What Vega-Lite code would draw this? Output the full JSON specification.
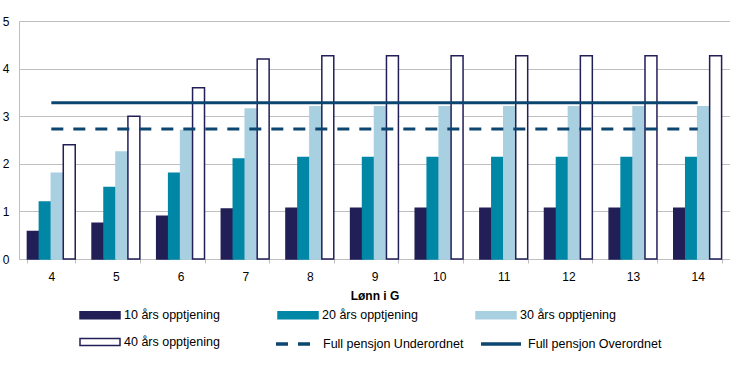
{
  "$schema": "https://vega.github.io/schema/vega-lite/v6.json",
  "width": 711,
  "height": 238,
  "autosize": {"type": "none"},
  "padding": {"left": 19, "top": 21, "right": 0, "bottom": 106},
  "background": "white",
  "config": {
    "font": "Liberation Sans",
    "view": {"stroke": null},
    "axis": {"labelFont": "Liberation Sans", "titleFont": "Liberation Sans", "labelColor": "#000000", "titleColor": "#000000", "labelFontSize": 12}
  },
  "datasets": {
    "bars": [
      {"lonn": "4", "serie": "10 års opptjening", "verdi": 0.58},
      {"lonn": "4", "serie": "20 års opptjening", "verdi": 1.2},
      {"lonn": "4", "serie": "30 års opptjening", "verdi": 1.8},
      {"lonn": "4", "serie": "40 års opptjening", "verdi": 2.4},
      {"lonn": "5", "serie": "10 års opptjening", "verdi": 0.75},
      {"lonn": "5", "serie": "20 års opptjening", "verdi": 1.5},
      {"lonn": "5", "serie": "30 års opptjening", "verdi": 2.25},
      {"lonn": "5", "serie": "40 års opptjening", "verdi": 3.0},
      {"lonn": "6", "serie": "10 års opptjening", "verdi": 0.9},
      {"lonn": "6", "serie": "20 års opptjening", "verdi": 1.8},
      {"lonn": "6", "serie": "30 års opptjening", "verdi": 2.7},
      {"lonn": "6", "serie": "40 års opptjening", "verdi": 3.6},
      {"lonn": "7", "serie": "10 års opptjening", "verdi": 1.05},
      {"lonn": "7", "serie": "20 års opptjening", "verdi": 2.1},
      {"lonn": "7", "serie": "30 års opptjening", "verdi": 3.15},
      {"lonn": "7", "serie": "40 års opptjening", "verdi": 4.2},
      {"lonn": "8", "serie": "10 års opptjening", "verdi": 1.065},
      {"lonn": "8", "serie": "20 års opptjening", "verdi": 2.13},
      {"lonn": "8", "serie": "30 års opptjening", "verdi": 3.2},
      {"lonn": "8", "serie": "40 års opptjening", "verdi": 4.27},
      {"lonn": "9", "serie": "10 års opptjening", "verdi": 1.065},
      {"lonn": "9", "serie": "20 års opptjening", "verdi": 2.13},
      {"lonn": "9", "serie": "30 års opptjening", "verdi": 3.2},
      {"lonn": "9", "serie": "40 års opptjening", "verdi": 4.27},
      {"lonn": "10", "serie": "10 års opptjening", "verdi": 1.065},
      {"lonn": "10", "serie": "20 års opptjening", "verdi": 2.13},
      {"lonn": "10", "serie": "30 års opptjening", "verdi": 3.2},
      {"lonn": "10", "serie": "40 års opptjening", "verdi": 4.27},
      {"lonn": "11", "serie": "10 års opptjening", "verdi": 1.065},
      {"lonn": "11", "serie": "20 års opptjening", "verdi": 2.13},
      {"lonn": "11", "serie": "30 års opptjening", "verdi": 3.2},
      {"lonn": "11", "serie": "40 års opptjening", "verdi": 4.27},
      {"lonn": "12", "serie": "10 års opptjening", "verdi": 1.065},
      {"lonn": "12", "serie": "20 års opptjening", "verdi": 2.13},
      {"lonn": "12", "serie": "30 års opptjening", "verdi": 3.2},
      {"lonn": "12", "serie": "40 års opptjening", "verdi": 4.27},
      {"lonn": "13", "serie": "10 års opptjening", "verdi": 1.065},
      {"lonn": "13", "serie": "20 års opptjening", "verdi": 2.13},
      {"lonn": "13", "serie": "30 års opptjening", "verdi": 3.2},
      {"lonn": "13", "serie": "40 års opptjening", "verdi": 4.27},
      {"lonn": "14", "serie": "10 års opptjening", "verdi": 1.065},
      {"lonn": "14", "serie": "20 års opptjening", "verdi": 2.13},
      {"lonn": "14", "serie": "30 års opptjening", "verdi": 3.2},
      {"lonn": "14", "serie": "40 års opptjening", "verdi": 4.27}
    ],
    "lines": [
      {"lonn": "4", "serie": "Full pensjon Underordnet", "verdi": 2.73},
      {"lonn": "14", "serie": "Full pensjon Underordnet", "verdi": 2.73},
      {"lonn": "4", "serie": "Full pensjon Overordnet", "verdi": 3.28},
      {"lonn": "14", "serie": "Full pensjon Overordnet", "verdi": 3.28}
    ]
  },
  "layer": [
    {
      "data": {"name": "bars"},
      "mark": {"type": "bar", "strokeWidth": 1.5},
      "encoding": {
        "x": {
          "field": "lonn", "type": "ordinal", "sort": ["4","5","6","7","8","9","10","11","12","13","14"],
          "scale": {"paddingInner": 0.26, "paddingOuter": 0.13},
          "axis": {
            "title": "Lønn i G", "titleFontWeight": "bold", "titleFontSize": 12, "titlePadding": 8,
            "labelAngle": 0, "labelPadding": 8, "tickBand": "extent", "tickSize": 4,
            "tickColor": "#BFBFBF", "domainColor": "#BFBFBF", "grid": false
          }
        },
        "xOffset": {"field": "serie", "type": "nominal", "sort": ["10 års opptjening","20 års opptjening","30 års opptjening","40 års opptjening"], "scale": {"paddingInner": 0, "paddingOuter": 0}},
        "y": {
          "field": "verdi", "type": "quantitative",
          "scale": {"domain": [0, 5], "nice": false},
          "axis": {
            "title": null, "values": [0,1,2,3,4,5], "ticks": false, "labelPadding": 10, "labelOverlap": false,
            "grid": true, "gridColor": "#BFBFBF", "gridWidth": 1, "domain": true, "domainColor": "#BFBFBF"
          }
        },
        "fill": {
          "field": "serie", "type": "nominal",
          "scale": {
            "domain": ["10 års opptjening","20 års opptjening","30 års opptjening","40 års opptjening"],
            "range": ["#221F57","#0087A6","#A9D0E0","#FFFFFF"]
          },
          "legend": {
            "orient": "none", "legendX": 60, "legendY": 285,
            "direction": "horizontal", "columns": 3, "title": null,
            "gridAlign": "each", "columnPadding": 55, "rowPadding": 11,
            "labelFontSize": 12.5, "labelFont": "Liberation Sans", "labelColor": "#000000",
            "labelOffset": 27, "symbolSize": 256, "symbolStrokeWidth": 1.5, "symbolOpacity": 1,
            "symbolType": "M-1,-0.44H4V0.44H-1Z"
          }
        },
        "stroke": {
          "field": "serie", "type": "nominal",
          "scale": {
            "domain": ["10 års opptjening","20 års opptjening","30 års opptjening","40 års opptjening"],
            "range": ["#221F57","#0087A6","#A9D0E0","#221F57"]
          },
          "legend": {
            "orient": "none", "legendX": 60, "legendY": 285,
            "direction": "horizontal", "columns": 3, "title": null,
            "gridAlign": "each", "columnPadding": 55, "rowPadding": 11,
            "labelFontSize": 12.5, "labelFont": "Liberation Sans", "labelColor": "#000000",
            "labelOffset": 27, "symbolSize": 256, "symbolStrokeWidth": 1.5, "symbolOpacity": 1,
            "symbolType": "M-1,-0.44H4V0.44H-1Z"
          }
        }
      }
    },
    {
      "data": {"name": "lines"},
      "mark": {"type": "line", "strokeWidth": 3, "color": "#0C4670"},
      "encoding": {
        "x": {"field": "lonn", "type": "ordinal", "sort": ["4","5","6","7","8","9","10","11","12","13","14"]},
        "y": {"field": "verdi", "type": "quantitative"},
        "strokeDash": {
          "field": "serie", "type": "nominal",
          "scale": {
            "domain": ["Full pensjon Underordnet", "Full pensjon Overordnet"],
            "range": [[12, 10], [1, 0]]
          },
          "legend": {
            "orient": "none", "legendX": 255, "legendY": 313,
            "direction": "horizontal", "columns": 2, "title": null,
            "gridAlign": "each", "columnPadding": 10,
            "labelFontSize": 12.5, "labelFont": "Liberation Sans", "labelColor": "#000000",
            "labelOffset": 29, "symbolSize": 256, "symbolType": "M-1,0H4",
            "symbolStrokeColor": "#0C4670", "symbolStrokeWidth": 3.5, "symbolOpacity": 1
          }
        }
      }
    }
  ]
}
